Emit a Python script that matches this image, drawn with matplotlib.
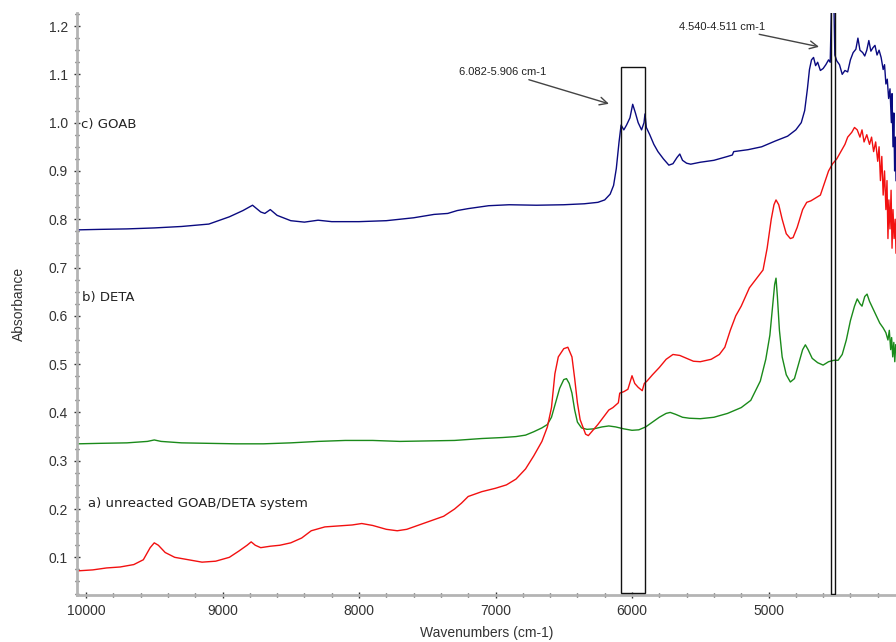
import matplotlib
matplotlib.use("Agg")
import matplotlib.pyplot as plt
from matplotlib.patches import Rectangle
from matplotlib.ticker import MultipleLocator, FixedLocator

# ---- spectra: wavenumber (cm-1) / absorbance ----
goab_wn = [10060, 9900, 9700, 9500, 9300, 9100, 8950, 8850, 8780, 8720, 8690, 8650, 8600, 8500,
           8400, 8300, 8200, 8000, 7800, 7600, 7450, 7350, 7280, 7200, 7050, 6900, 6700, 6500,
           6350, 6250, 6200, 6160, 6135, 6115, 6095, 6080, 6060, 6040, 6015, 5995, 5975, 5955,
           5930, 5912, 5905, 5895, 5870, 5840, 5810, 5770, 5730, 5700, 5670, 5650, 5630, 5600,
           5570, 5500, 5400, 5300, 5265, 5255, 5150, 5050, 4950, 4860, 4800, 4760, 4735, 4715,
           4700, 4685, 4670, 4655, 4640, 4620, 4600, 4580, 4560, 4548, 4538, 4530, 4522, 4514,
           4500, 4480, 4460, 4440, 4420, 4400, 4380, 4360, 4345, 4330, 4310, 4295, 4280, 4265,
           4250, 4235, 4220, 4205, 4190, 4175, 4160, 4150, 4140, 4130, 4120, 4110, 4100, 4095,
           4088, 4082, 4076, 4070, 4066]
goab_abs = [0.778, 0.779, 0.780, 0.782, 0.785, 0.790, 0.805, 0.818, 0.829, 0.815, 0.812, 0.820,
            0.808, 0.797, 0.794, 0.798, 0.795, 0.795, 0.797, 0.803, 0.810, 0.812, 0.818, 0.822,
            0.828, 0.830, 0.829, 0.830, 0.832, 0.835, 0.840, 0.852, 0.870, 0.905, 0.960, 0.995,
            0.985, 0.995, 1.010, 1.038, 1.020, 1.000, 0.985, 1.000, 1.018, 0.990, 0.975, 0.955,
            0.940, 0.925, 0.912, 0.915, 0.928, 0.935, 0.922, 0.916, 0.914, 0.918, 0.922, 0.930,
            0.933, 0.940, 0.944, 0.950, 0.962, 0.972, 0.985, 1.000, 1.025, 1.070, 1.110, 1.130,
            1.135, 1.118, 1.125, 1.108, 1.112, 1.120, 1.130, 1.125, 1.250, 1.300, 1.260, 1.140,
            1.128, 1.120, 1.100, 1.108, 1.105, 1.130, 1.145, 1.152, 1.175, 1.150, 1.145, 1.138,
            1.150, 1.170, 1.148, 1.155, 1.160, 1.140, 1.150, 1.135, 1.110, 1.120, 1.080, 1.090,
            1.050, 1.070, 1.000, 1.060, 0.950, 1.020, 0.900, 0.970, 0.880]

deta_wn = [10060, 9900, 9700, 9550, 9500, 9450, 9300, 9100, 8900, 8700, 8500, 8300, 8100, 7900,
           7700, 7500, 7300, 7100, 6950, 6850, 6780, 6720, 6660, 6620, 6590, 6560, 6530, 6500,
           6480, 6460, 6440, 6420, 6400, 6370, 6330, 6280, 6220, 6170, 6120, 6060, 6000, 5950,
           5900, 5850, 5800, 5750, 5720, 5680, 5630, 5580, 5500, 5400, 5300, 5200, 5130, 5060,
           5020, 4990, 4970, 4955, 4945, 4935, 4920, 4900, 4870, 4840, 4810, 4780, 4750, 4730,
           4710, 4680, 4640, 4600, 4560, 4520, 4490, 4460, 4430, 4400, 4370, 4350, 4330, 4315,
           4295, 4278, 4260, 4240, 4210, 4185, 4160, 4140, 4125, 4115, 4105, 4098, 4090, 4082,
           4075, 4068]
deta_abs = [0.335, 0.336, 0.337, 0.340, 0.343, 0.340, 0.337, 0.336, 0.335, 0.335, 0.337, 0.340,
            0.342, 0.342, 0.340, 0.341, 0.342, 0.346, 0.348, 0.350, 0.353, 0.360, 0.368, 0.375,
            0.390, 0.420, 0.450, 0.468, 0.470, 0.460, 0.440, 0.405, 0.380, 0.368, 0.365, 0.366,
            0.370, 0.372, 0.370, 0.366, 0.363, 0.364, 0.370, 0.380, 0.390, 0.398, 0.400, 0.396,
            0.390, 0.388, 0.387, 0.390, 0.398, 0.410, 0.425, 0.465, 0.510, 0.560, 0.620, 0.665,
            0.678, 0.640, 0.570, 0.515, 0.478, 0.463, 0.470, 0.500, 0.530, 0.540, 0.530, 0.512,
            0.503, 0.498, 0.505, 0.508, 0.508, 0.520, 0.550, 0.590, 0.620, 0.635, 0.625, 0.620,
            0.640, 0.645, 0.630, 0.618, 0.600, 0.585, 0.575, 0.565, 0.550, 0.570, 0.530, 0.555,
            0.515, 0.545, 0.505, 0.540]

mix_wn = [10060, 9950, 9850, 9750, 9650, 9580, 9530, 9500, 9470, 9420, 9350, 9250, 9150, 9050,
          8950, 8880, 8820, 8790, 8760, 8720, 8650, 8580, 8500, 8420, 8350, 8250, 8150, 8050,
          7980, 7900, 7800, 7720, 7650, 7550, 7450, 7380, 7300, 7250, 7200, 7100, 7000, 6920,
          6850, 6780, 6720, 6660, 6620, 6590, 6565, 6540, 6500, 6470, 6440, 6420, 6400, 6380,
          6340, 6320, 6290, 6250, 6210, 6170, 6140, 6100, 6090, 6060, 6030, 6000, 5980, 5955,
          5925, 5910, 5890, 5850, 5800, 5750, 5700, 5650, 5600, 5550, 5500, 5420, 5360, 5320,
          5280, 5240, 5200, 5140, 5080, 5040, 5010, 4980, 4960, 4945, 4925, 4900, 4870, 4840,
          4820, 4790, 4750, 4720, 4690, 4650, 4620, 4590, 4560, 4530, 4500, 4470, 4440, 4420,
          4390, 4370, 4350, 4330, 4315, 4300, 4280, 4260, 4245, 4230, 4215, 4200, 4190, 4180,
          4170, 4160, 4150, 4140, 4132, 4125, 4118, 4110, 4102, 4095, 4088, 4080, 4072, 4066]
mix_abs = [0.072, 0.074, 0.078, 0.080, 0.085, 0.095, 0.120, 0.130, 0.125, 0.110, 0.100, 0.095,
           0.090, 0.092, 0.100, 0.113, 0.125, 0.132, 0.125, 0.120, 0.123, 0.125, 0.130, 0.140,
           0.155, 0.163, 0.165, 0.167, 0.170, 0.166, 0.158, 0.155, 0.158, 0.168, 0.178, 0.185,
           0.200, 0.212, 0.226, 0.236, 0.243, 0.250, 0.262, 0.283, 0.310, 0.340, 0.370, 0.410,
           0.480, 0.515, 0.532, 0.535, 0.515, 0.470, 0.420, 0.385, 0.355, 0.352, 0.362, 0.375,
           0.390, 0.405, 0.410, 0.420, 0.440, 0.443, 0.448, 0.476, 0.460, 0.452, 0.445, 0.460,
           0.465, 0.478, 0.493, 0.510, 0.520, 0.518, 0.512, 0.506, 0.505, 0.510, 0.520, 0.535,
           0.570, 0.600, 0.620, 0.658, 0.680, 0.695, 0.740, 0.800, 0.830, 0.840, 0.830, 0.800,
           0.770, 0.760, 0.762, 0.783, 0.820, 0.835, 0.838, 0.845, 0.850, 0.875, 0.900, 0.915,
           0.925, 0.940, 0.955, 0.970, 0.980, 0.990, 0.985, 0.970, 0.985, 0.960, 0.975, 0.955,
           0.970, 0.940, 0.960, 0.920, 0.950, 0.880, 0.930, 0.850, 0.900, 0.820, 0.880, 0.760,
           0.840, 0.780, 0.860, 0.740, 0.820, 0.760, 0.800, 0.730]

# highlighted bands (cm-1)
band1 = (6082, 5906)
band2 = (4540, 4511)

x_ticks = [10000, 9000, 8000, 7000, 6000, 5000]
y_ticks = [0.1, 0.2, 0.3, 0.4, 0.5, 0.6, 0.7, 0.8, 0.9, 1.0, 1.1, 1.2]

plt.rcParams['font.family'] = ['DejaVu Sans']

fig = plt.figure(figsize=(8.96, 6.42), dpi=100)
ax = fig.add_axes([77 / 896, 47 / 642, 1 - 77 / 896, (595 - 13) / 642])

ax.plot(goab_wn, goab_abs, color='#0a0a80', lw=1.0)
ax.plot(deta_wn, deta_abs, color='#1a8a1a', lw=1.0)
ax.plot(mix_wn, mix_abs, color='#f21010', lw=1.0)

ax.set_xlim(10066, 4066)
ax.set_ylim(0.022, 1.227)

# boxes around the bands
ax.add_patch(Rectangle((band1[1], 0.026), band1[0] - band1[1], 1.115 - 0.026,
                       fill=False, ec='#111111', lw=1.0, zorder=3))
ax.add_patch(Rectangle((band2[1], 0.024), band2[0] - band2[1], 1.6,
                       fill=False, ec='#111111', lw=1.0, zorder=3))

# spine / tick styling
for s in ('top', 'right'):
    ax.spines[s].set_visible(False)
for s in ('left', 'bottom'):
    ax.spines[s].set_color('#b4b4b4')
    ax.spines[s].set_linewidth(2.0)

ax.xaxis.set_major_locator(FixedLocator(x_ticks))
ax.set_xticklabels([str(v) for v in x_ticks])
ax.xaxis.set_minor_locator(MultipleLocator(200))
ax.yaxis.set_major_locator(FixedLocator(y_ticks))
ax.set_yticklabels([f"{v:.1f}" for v in y_ticks])
ax.yaxis.set_minor_locator(MultipleLocator(0.025))
ax.tick_params(which='major', direction='inout', length=5, width=1.0, color='#333333',
               labelsize=9, labelcolor='#333333', pad=4)
ax.tick_params(which='minor', direction='inout', length=3, width=1.0, color='#333333')
for lab in ax.get_xticklabels() + ax.get_yticklabels():
    lab.set_family('Liberation Sans')
    lab.set_fontsize(10)

ax.set_xlabel('Wavenumbers (cm-1)', fontsize=10, color='#333333', family='Liberation Sans',
              labelpad=6)
ax.set_ylabel('Absorbance', fontsize=10, color='#333333', family='Liberation Sans',
              labelpad=16)

# curve labels
lab_kw = dict(fontsize=9.5, color='#222222', va='center', ha='left')
ax.text(10035, 0.996, 'c) GOAB', **lab_kw)
ax.text(10030, 0.637, 'b) DETA', **lab_kw)
ax.text(9985, 0.212, 'a) unreacted GOAB/DETA system', **lab_kw)

# band annotations
ann_kw = dict(fontsize=8, color='#222222', family='Liberation Sans', va='center', ha='center',
              arrowprops=dict(arrowstyle='->', color='#444444', lw=1.0,
                              mutation_scale=14, shrinkA=0, shrinkB=0))
ax.annotate('6.082-5.906 cm-1', xy=(6169, 1.039), xytext=(6945, 1.105), **ann_kw)
ax.annotate('4.540-4.511 cm-1', xy=(4630, 1.157), xytext=(5341, 1.199), **ann_kw)

fig.savefig('out.png', dpi=100)
